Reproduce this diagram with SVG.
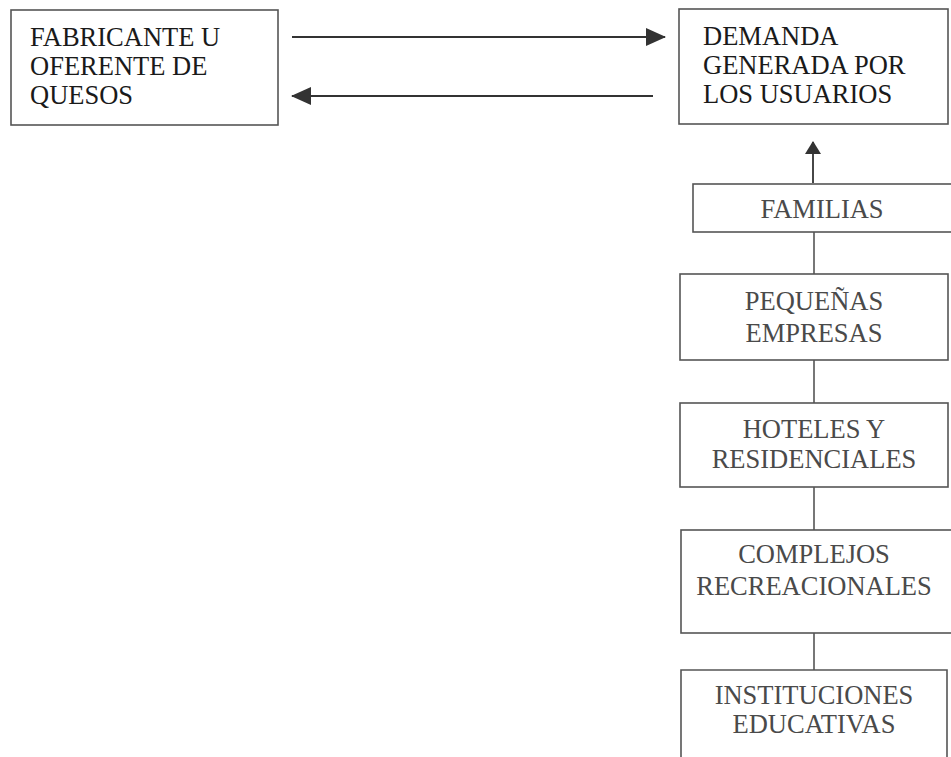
<svg xmlns="http://www.w3.org/2000/svg" width="951" height="757" viewBox="0 0 951 757">
<style>
.box{fill:#fff;stroke:#555;stroke-width:1.6}
.open{fill:none;stroke:#555;stroke-width:1.6}
.t{font-family:"Liberation Serif","Times New Roman",serif;font-size:26.5px;fill:#1a1a1a}
.g{font-family:"Liberation Serif","Times New Roman",serif;font-size:26.5px;fill:#4a4a4a;text-anchor:middle}
.c{stroke:#333;stroke-width:1.8;fill:none}
.cg{stroke:#555;stroke-width:1.6;fill:none}
</style>
<defs>
<marker id="ah" markerWidth="20" markerHeight="18" refX="19" refY="9" orient="auto" markerUnits="userSpaceOnUse">
<path d="M0,0 L20,9 L0,18 Z" fill="#333"/>
</marker>
<marker id="ahs" markerWidth="13" markerHeight="16" refX="12" refY="8" orient="auto" markerUnits="userSpaceOnUse">
<path d="M0,0 L13,8 L0,16 Z" fill="#333"/>
</marker>
</defs>
<rect width="951" height="757" fill="#fff"/>
<g id="connectors">
<line class="c" x1="292" y1="37" x2="665" y2="37" marker-end="url(#ah)"/>
<line class="c" x1="653" y1="96" x2="292" y2="96" marker-end="url(#ah)"/>
<line class="c" x1="813" y1="183" x2="813" y2="142" marker-end="url(#ahs)"/>
<line class="cg" x1="814" y1="232" x2="814" y2="274"/>
<line class="cg" x1="814" y1="360" x2="814" y2="403"/>
<line class="cg" x1="814" y1="487" x2="814" y2="530"/>
<line class="cg" x1="814" y1="633" x2="814" y2="670"/>
</g>
<g id="fabricante">
<rect class="box" x="11" y="10" width="267" height="115"/>
<text class="t" x="30" y="46">FABRICANTE U</text>
<text class="t" x="30" y="75">OFERENTE DE</text>
<text class="t" x="30" y="104">QUESOS</text>
</g>
<g id="demanda">
<rect class="box" x="679" y="9" width="269" height="115"/>
<text class="t" x="703" y="45">DEMANDA</text>
<text class="t" x="703" y="74">GENERADA POR</text>
<text class="t" x="703" y="103">LOS USUARIOS</text>
</g>
<g id="familias">
<rect class="box" x="693" y="184" width="270" height="48"/>
<text class="g" x="822" y="218">FAMILIAS</text>
</g>
<g id="pequenas">
<rect class="box" x="680" y="274" width="268" height="86"/>
<text class="g" x="814" y="310">PEQUEÑAS</text>
<text class="g" x="814" y="342">EMPRESAS</text>
</g>
<g id="hoteles">
<rect class="box" x="680" y="403" width="268" height="84"/>
<text class="g" x="814" y="438">HOTELES Y</text>
<text class="g" x="814" y="468">RESIDENCIALES</text>
</g>
<g id="complejos">
<rect class="box" x="681" y="530" width="280" height="103"/>
<text class="g" x="814" y="563">COMPLEJOS</text>
<text class="g" x="814" y="595">RECREACIONALES</text>
</g>
<g id="instituciones">
<path class="open" d="M681,760 L681,670 L947,670 L947,760"/>
<text class="g" x="814" y="704">INSTITUCIONES</text>
<text class="g" x="814" y="733">EDUCATIVAS</text>
</g>
</svg>
